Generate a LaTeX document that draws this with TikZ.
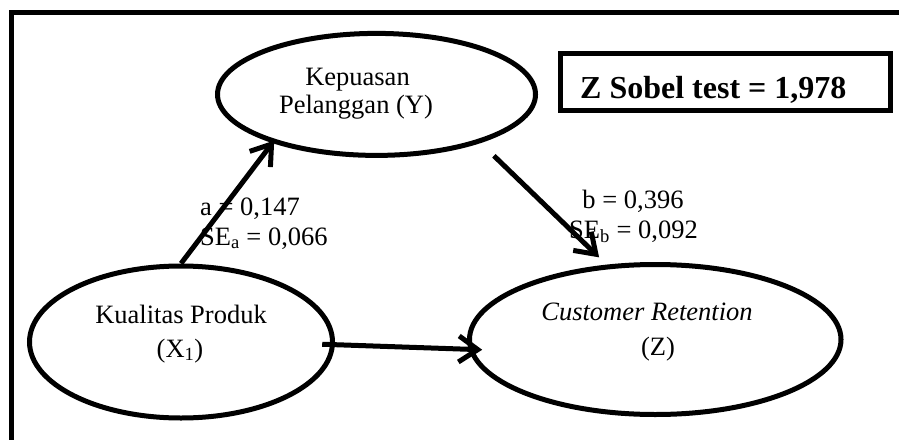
\documentclass[tikz,border=0pt]{standalone}
\usepackage{fontspec}
\setmainfont{Liberation Serif}
\usetikzlibrary{shapes.geometric,arrows.meta}

\tikzset{
  construct/.style={ellipse, draw, line width=5pt, inner sep=0pt},
  txt/.style={inner sep=0pt, font=\fontsize{26.5}{28}\selectfont},
  arr/.style={line width=5pt, -{Straight Barb[length=19pt, width=26pt]}},
}

\begin{document}
\begin{tikzpicture}[x=1pt, y=-1pt]
  \useasboundingbox (0,0) rectangle (899,439);
  \clip (0,0) rectangle (899,439);

  % outer frame (continues past the right and bottom edges)
  \draw[line width=5pt] (11.5,460) -- (11.5,12.5) -- (920,12.5);

  % constructs
  \node[construct, minimum width=318pt, minimum height=122pt] (y) at (376.5,94.4) {};
  \node[construct, minimum width=303pt, minimum height=152pt] (x1) at (181,342) {};
  \node[construct, minimum width=371.5pt, minimum height=150pt] (z) at (655.25,339.5) {};

  \node[txt, anchor=base] (yl1) at (357.5,85.5) {Kepuasan};
  \node[txt, anchor=base] (yl2) at (356,113.3) {Pelanggan (Y)};
  \node[txt, anchor=base] (xl1) at (181,323) {Kualitas Produk};
  \node[txt, anchor=base] (xl2) at (180,357) {(X\textsubscript{1})};
  \node[txt, anchor=base] (zl1) at (647,320) {\itshape Customer Retention};
  \node[txt, anchor=base] (zl2) at (658,355) {(Z)};

  % Sobel test result
  \node[draw, line width=5pt, minimum width=330pt, minimum height=56.5pt, inner sep=0pt] (sobel) at (725.5,81.75) {};
  \node[inner sep=0pt, anchor=base west, font=\fontsize{32}{34}\selectfont\bfseries] (sobeltxt) at (580,98.3) {Z Sobel test = 1,978};

  % paths
  \draw[arr, shorten >=-3pt] (x1.north) -- (y.205);
  \draw[arr, shorten <=18.5pt, shorten >=10.5pt] (y.335) -- (z.123.5);
  \draw[arr, shorten <=-12.7pt, shorten >=-13.7pt] (x1.359) -- (z.183.5);

  % path coefficients
  \node[txt, anchor=base west] (a1) at (200,215) {a = 0,147};
  \node[txt, anchor=base west] (a2) at (200,245) {SE\textsubscript{a} = 0,066};
  \node[txt, anchor=base] (b1) at (633,208) {b = 0,396};
  \node[txt, anchor=base] (b2) at (633.5,238) {SE\textsubscript{b} = 0,092};
\end{tikzpicture}
\end{document}
